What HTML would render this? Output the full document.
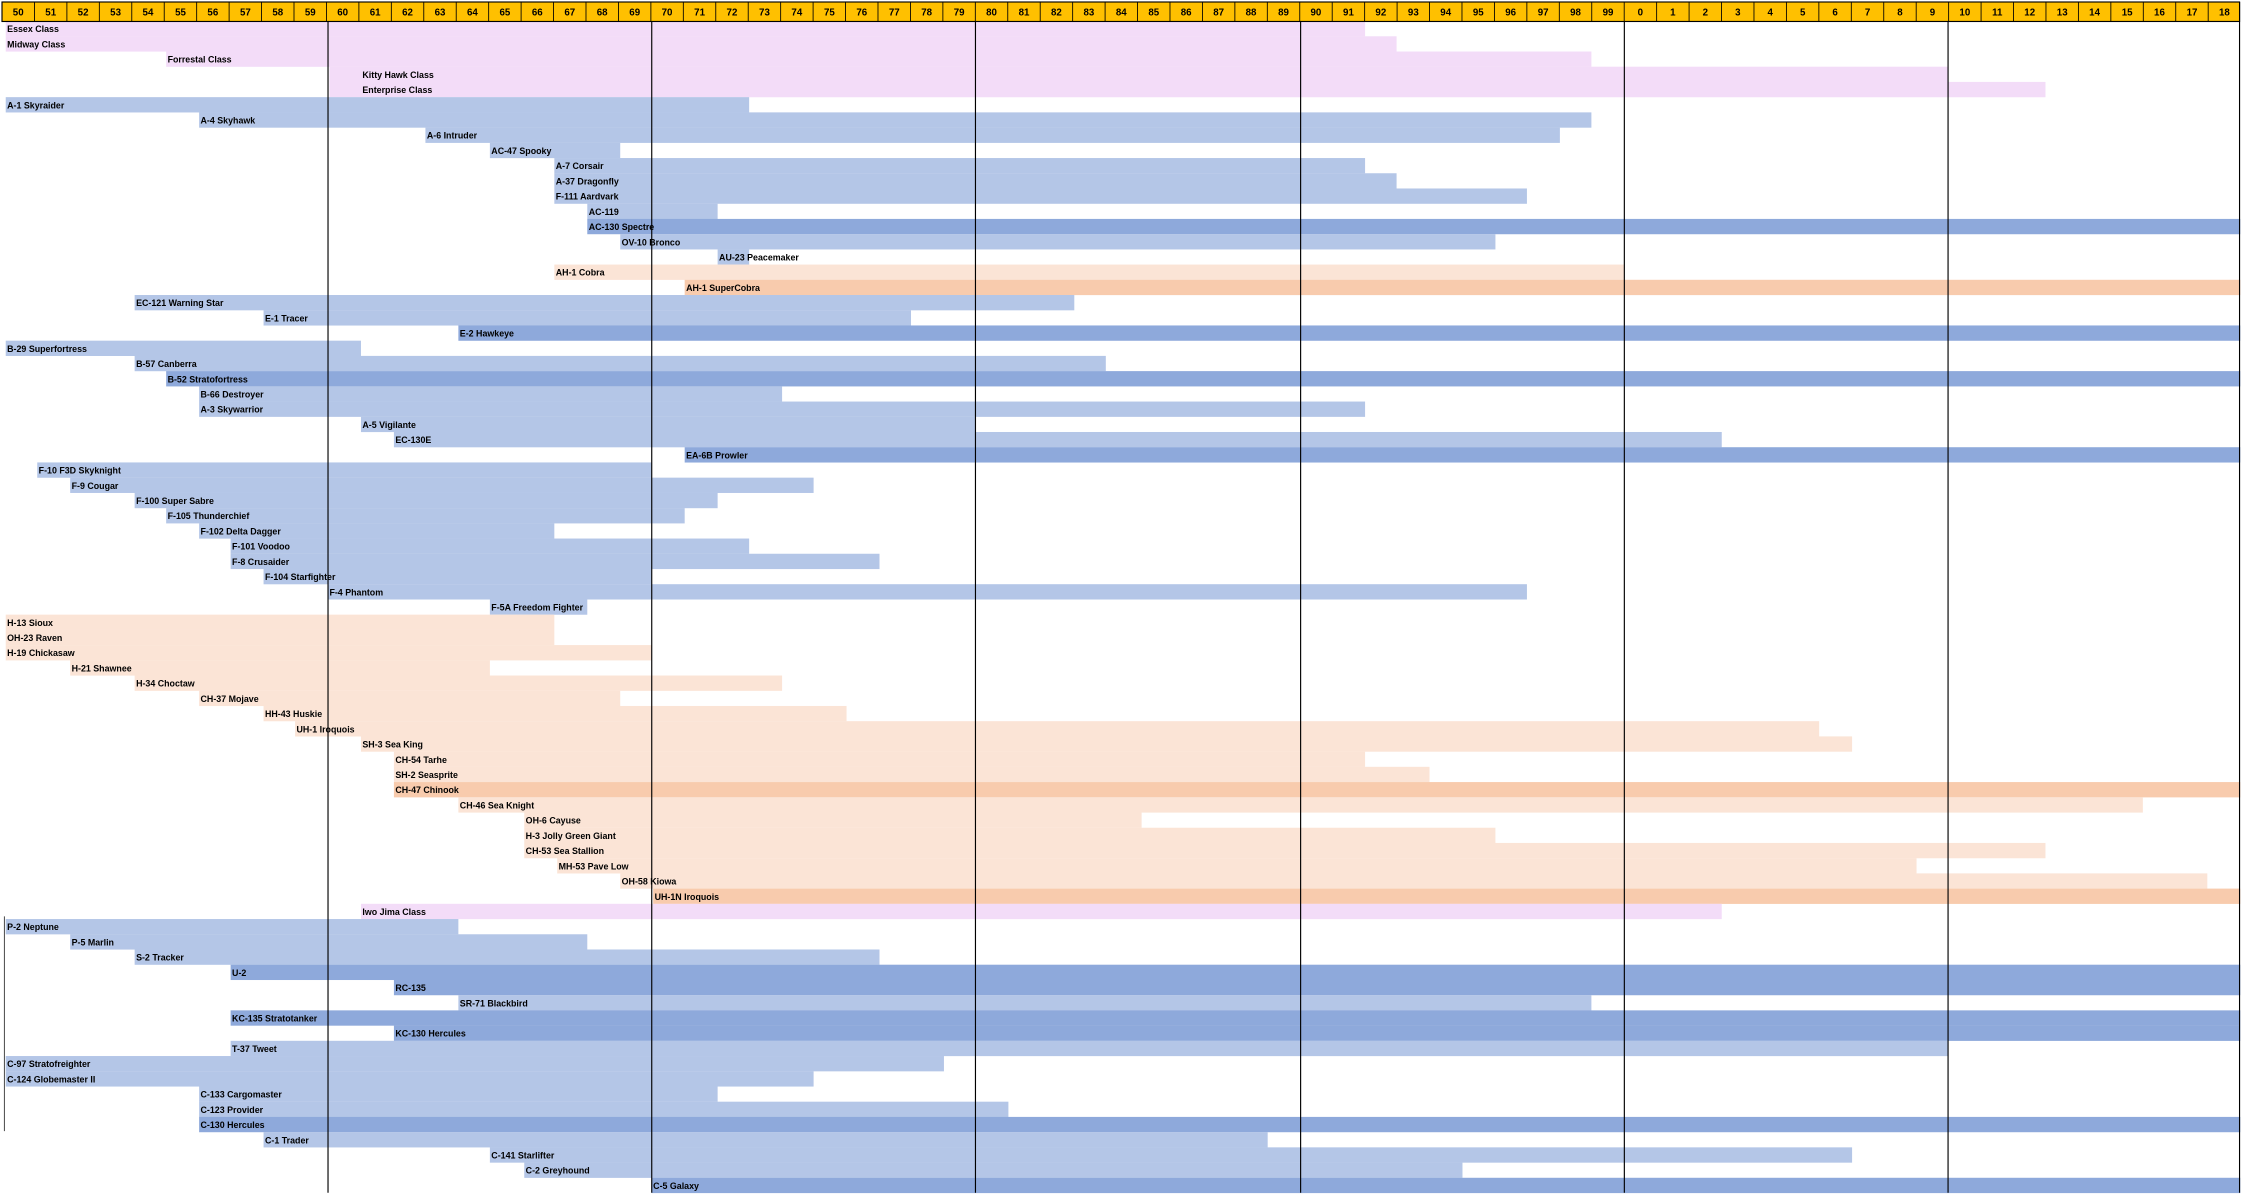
<!DOCTYPE html>
<html><head><meta charset="utf-8"><style>
html,body{margin:0;padding:0;background:#fff;}
svg{display:block;}
text{font-family:"Liberation Sans",sans-serif;font-weight:bold;fill:#000;}
.p{fill:#F3DCF8}.b{fill:#B4C6E7}.d{fill:#8EA9DB}.o{fill:#FBE4D6}.q{fill:#F8CBAD}
</style></head><body>
<svg width="2246" height="1197" viewBox="0 0 1568 836" preserveAspectRatio="none" xmlns="http://www.w3.org/2000/svg">
<rect x="0" y="0" width="1568" height="836" fill="#fff"/>
<g font-size="6.2">
<g transform="translate(0,14.7)"><rect class="p" x="4" y="0" width="949" height="10.7"/><text x="5" y="7.8">Essex Class</text></g>
<g transform="translate(0,25.33)"><rect class="p" x="4" y="0" width="971" height="10.7"/><text x="5" y="7.8">Midway Class</text></g>
<g transform="translate(0,35.96)"><rect class="p" x="116" y="0" width="995" height="10.7"/><text x="117" y="7.8">Forrestal Class</text></g>
<g transform="translate(0,46.59)"><rect class="p" x="230" y="0" width="1130" height="10.7"/><text x="253" y="7.8">Kitty Hawk Class</text></g>
<g transform="translate(0,57.22)"><rect class="p" x="230" y="0" width="1198" height="10.7"/><text x="253" y="7.8">Enterprise Class</text></g>
<g transform="translate(0,67.85)"><rect class="b" x="4" y="0" width="519" height="10.7"/><text x="5" y="7.8">A-1 Skyraider</text></g>
<g transform="translate(0,78.48)"><rect class="b" x="139" y="0" width="972" height="10.7"/><text x="140" y="7.8">A-4 Skyhawk</text></g>
<g transform="translate(0,89.11)"><rect class="b" x="297" y="0" width="792" height="10.7"/><text x="298" y="7.8">A-6 Intruder</text></g>
<g transform="translate(0,99.74)"><rect class="b" x="342" y="0" width="91" height="10.7"/><text x="343" y="7.8">AC-47 Spooky</text></g>
<g transform="translate(0,110.37)"><rect class="b" x="387" y="0" width="566" height="10.7"/><text x="388" y="7.8">A-7 Corsair</text></g>
<g transform="translate(0,121)"><rect class="b" x="387" y="0" width="588" height="10.7"/><text x="388" y="7.8">A-37 Dragonfly</text></g>
<g transform="translate(0,131.63)"><rect class="b" x="387" y="0" width="679" height="10.7"/><text x="388" y="7.8">F-111 Aardvark</text></g>
<g transform="translate(0,142.26)"><rect class="b" x="410" y="0" width="91" height="10.7"/><text x="411" y="7.8">AC-119</text></g>
<g transform="translate(0,152.89)"><rect class="d" x="410" y="0" width="1154" height="10.7"/><text x="411" y="7.8">AC-130 Spectre</text></g>
<g transform="translate(0,163.52)"><rect class="b" x="433" y="0" width="611" height="10.7"/><text x="434" y="7.8">OV-10 Bronco</text></g>
<g transform="translate(0,174.15)"><rect class="b" x="501" y="0" width="22" height="10.7"/><text x="502" y="7.8">AU-23 Peacemaker</text></g>
<g transform="translate(0,184.78)"><rect class="o" x="387" y="0" width="747" height="10.7"/><text x="388" y="7.8">AH-1 Cobra</text></g>
<g transform="translate(0,195.41)"><rect class="q" x="478" y="0" width="1086" height="10.7"/><text x="479" y="7.8">AH-1 SuperCobra</text></g>
<g transform="translate(0,206.04)"><rect class="b" x="94" y="0" width="656" height="10.7"/><text x="95" y="7.8">EC-121 Warning Star</text></g>
<g transform="translate(0,216.67)"><rect class="b" x="184" y="0" width="452" height="10.7"/><text x="185" y="7.8">E-1 Tracer</text></g>
<g transform="translate(0,227.3)"><rect class="d" x="320" y="0" width="1244" height="10.7"/><text x="321" y="7.8">E-2 Hawkeye</text></g>
<g transform="translate(0,237.93)"><rect class="b" x="4" y="0" width="248" height="10.7"/><text x="5" y="7.8">B-29 Superfortress</text></g>
<g transform="translate(0,248.56)"><rect class="b" x="94" y="0" width="678" height="10.7"/><text x="95" y="7.8">B-57 Canberra</text></g>
<g transform="translate(0,259.19)"><rect class="d" x="116" y="0" width="1448" height="10.7"/><text x="117" y="7.8">B-52 Stratofortress</text></g>
<g transform="translate(0,269.82)"><rect class="b" x="139" y="0" width="407" height="10.7"/><text x="140" y="7.8">B-66 Destroyer</text></g>
<g transform="translate(0,280.45)"><rect class="b" x="139" y="0" width="814" height="10.7"/><text x="140" y="7.8">A-3 Skywarrior</text></g>
<g transform="translate(0,291.08)"><rect class="b" x="252" y="0" width="429" height="10.7"/><text x="253" y="7.8">A-5 Vigilante</text></g>
<g transform="translate(0,301.71)"><rect class="b" x="275" y="0" width="927" height="10.7"/><text x="276" y="7.8">EC-130E</text></g>
<g transform="translate(0,312.34)"><rect class="d" x="478" y="0" width="1086" height="10.7"/><text x="479" y="7.8">EA-6B Prowler</text></g>
<g transform="translate(0,322.97)"><rect class="b" x="26" y="0" width="429" height="10.7"/><text x="27" y="7.8">F-10 F3D Skyknight</text></g>
<g transform="translate(0,333.6)"><rect class="b" x="49" y="0" width="519" height="10.7"/><text x="50" y="7.8">F-9 Cougar</text></g>
<g transform="translate(0,344.23)"><rect class="b" x="94" y="0" width="407" height="10.7"/><text x="95" y="7.8">F-100 Super Sabre</text></g>
<g transform="translate(0,354.86)"><rect class="b" x="116" y="0" width="362" height="10.7"/><text x="117" y="7.8">F-105 Thunderchief</text></g>
<g transform="translate(0,365.49)"><rect class="b" x="139" y="0" width="248" height="10.7"/><text x="140" y="7.8">F-102 Delta Dagger</text></g>
<g transform="translate(0,376.12)"><rect class="b" x="161" y="0" width="362" height="10.7"/><text x="162" y="7.8">F-101 Voodoo</text></g>
<g transform="translate(0,386.75)"><rect class="b" x="161" y="0" width="453" height="10.7"/><text x="162" y="7.8">F-8 Crusaider</text></g>
<g transform="translate(0,397.38)"><rect class="b" x="184" y="0" width="271" height="10.7"/><text x="185" y="7.8">F-104 Starfighter</text></g>
<g transform="translate(0,408.01)"><rect class="b" x="229" y="0" width="837" height="10.7"/><text x="230" y="7.8">F-4 Phantom</text></g>
<g transform="translate(0,418.64)"><rect class="b" x="342" y="0" width="68" height="10.7"/><text x="343" y="7.8">F-5A Freedom Fighter</text></g>
<g transform="translate(0,429.27)"><rect class="o" x="4" y="0" width="383" height="10.7"/><text x="5" y="7.8">H-13 Sioux</text></g>
<g transform="translate(0,439.9)"><rect class="o" x="4" y="0" width="383" height="10.7"/><text x="5" y="7.8">OH-23 Raven</text></g>
<g transform="translate(0,450.53)"><rect class="o" x="4" y="0" width="451" height="10.7"/><text x="5" y="7.8">H-19 Chickasaw</text></g>
<g transform="translate(0,461.16)"><rect class="o" x="49" y="0" width="293" height="10.7"/><text x="50" y="7.8">H-21 Shawnee</text></g>
<g transform="translate(0,471.79)"><rect class="o" x="94" y="0" width="452" height="10.7"/><text x="95" y="7.8">H-34 Choctaw</text></g>
<g transform="translate(0,482.42)"><rect class="o" x="139" y="0" width="294" height="10.7"/><text x="140" y="7.8">CH-37 Mojave</text></g>
<g transform="translate(0,493.05)"><rect class="o" x="184" y="0" width="407" height="10.7"/><text x="185" y="7.8">HH-43 Huskie</text></g>
<g transform="translate(0,503.68)"><rect class="o" x="206" y="0" width="1064" height="10.7"/><text x="207" y="7.8">UH-1 Iroquois</text></g>
<g transform="translate(0,514.31)"><rect class="o" x="252" y="0" width="1041" height="10.7"/><text x="253" y="7.8">SH-3 Sea King</text></g>
<g transform="translate(0,524.94)"><rect class="o" x="275" y="0" width="678" height="10.7"/><text x="276" y="7.8">CH-54 Tarhe</text></g>
<g transform="translate(0,535.57)"><rect class="o" x="275" y="0" width="723" height="10.7"/><text x="276" y="7.8">SH-2 Seasprite</text></g>
<g transform="translate(0,546.2)"><rect class="q" x="275" y="0" width="1289" height="10.7"/><text x="276" y="7.8">CH-47 Chinook</text></g>
<g transform="translate(0,556.83)"><rect class="o" x="320" y="0" width="1176" height="10.7"/><text x="321" y="7.8">CH-46 Sea Knight</text></g>
<g transform="translate(0,567.46)"><rect class="o" x="366" y="0" width="431" height="10.7"/><text x="367" y="7.8">OH-6 Cayuse</text></g>
<g transform="translate(0,578.09)"><rect class="o" x="366" y="0" width="678" height="10.7"/><text x="367" y="7.8">H-3 Jolly Green Giant</text></g>
<g transform="translate(0,588.72)"><rect class="o" x="366" y="0" width="1062" height="10.7"/><text x="367" y="7.8">CH-53 Sea Stallion</text></g>
<g transform="translate(0,599.35)"><rect class="o" x="389" y="0" width="949" height="10.7"/><text x="390" y="7.8">MH-53 Pave Low</text></g>
<g transform="translate(0,609.98)"><rect class="o" x="433" y="0" width="1108" height="10.7"/><text x="434" y="7.8">OH-58 Kiowa</text></g>
<g transform="translate(0,620.61)"><rect class="q" x="456" y="0" width="1108" height="10.7"/><text x="457" y="7.8">UH-1N Iroquois</text></g>
<g transform="translate(0,631.24)"><rect class="p" x="252" y="0" width="950" height="10.7"/><text x="253" y="7.8">Iwo Jima Class</text></g>
<g transform="translate(0,641.87)"><rect class="b" x="4" y="0" width="316" height="10.7"/><text x="5" y="7.8">P-2 Neptune</text></g>
<g transform="translate(0,652.5)"><rect class="b" x="49" y="0" width="361" height="10.7"/><text x="50" y="7.8">P-5 Marlin</text></g>
<g transform="translate(0,663.13)"><rect class="b" x="94" y="0" width="520" height="10.7"/><text x="95" y="7.8">S-2 Tracker</text></g>
<g transform="translate(0,673.76)"><rect class="d" x="161" y="0" width="1403" height="10.7"/><text x="162" y="7.8">U-2</text></g>
<g transform="translate(0,684.39)"><rect class="d" x="275" y="0" width="1289" height="10.7"/><text x="276" y="7.8">RC-135</text></g>
<g transform="translate(0,695.02)"><rect class="b" x="320" y="0" width="791" height="10.7"/><text x="321" y="7.8">SR-71 Blackbird</text></g>
<g transform="translate(0,705.65)"><rect class="d" x="161" y="0" width="1403" height="10.7"/><text x="162" y="7.8">KC-135 Stratotanker</text></g>
<g transform="translate(0,716.28)"><rect class="d" x="275" y="0" width="1289" height="10.7"/><text x="276" y="7.8">KC-130 Hercules</text></g>
<g transform="translate(0,726.91)"><rect class="b" x="161" y="0" width="1199" height="10.7"/><text x="162" y="7.8">T-37 Tweet</text></g>
<g transform="translate(0,737.54)"><rect class="b" x="4" y="0" width="655" height="10.7"/><text x="5" y="7.8">C-97 Stratofreighter</text></g>
<g transform="translate(0,748.17)"><rect class="b" x="4" y="0" width="564" height="10.7"/><text x="5" y="7.8">C-124 Globemaster II</text></g>
<g transform="translate(0,758.8)"><rect class="b" x="139" y="0" width="362" height="10.7"/><text x="140" y="7.8">C-133 Cargomaster</text></g>
<g transform="translate(0,769.43)"><rect class="b" x="139" y="0" width="565" height="10.7"/><text x="140" y="7.8">C-123 Provider</text></g>
<g transform="translate(0,780.06)"><rect class="d" x="139" y="0" width="1425" height="10.7"/><text x="140" y="7.8">C-130 Hercules</text></g>
<g transform="translate(0,790.69)"><rect class="b" x="184" y="0" width="701" height="10.7"/><text x="185" y="7.8">C-1 Trader</text></g>
<g transform="translate(0,801.32)"><rect class="b" x="342" y="0" width="951" height="10.7"/><text x="343" y="7.8">C-141 Starlifter</text></g>
<g transform="translate(0,811.95)"><rect class="b" x="366" y="0" width="655" height="10.7"/><text x="367" y="7.8">C-2 Greyhound</text></g>
<g transform="translate(0,822.58)"><rect class="d" x="455" y="0" width="1109" height="10.7"/><text x="456" y="7.8">C-5 Galaxy</text></g>
</g>
<g stroke="#000" stroke-width="0.8">
<line x1="229" y1="15" x2="229" y2="833"/>
<line x1="455" y1="15" x2="455" y2="833"/>
<line x1="681" y1="15" x2="681" y2="833"/>
<line x1="908" y1="15" x2="908" y2="833"/>
<line x1="1134" y1="15" x2="1134" y2="833"/>
<line x1="1360" y1="15" x2="1360" y2="833"/>
<line x1="1563.5" y1="1.4" x2="1563.5" y2="833"/>
<line x1="3" y1="640" x2="3" y2="790" stroke-width="0.5"/>
</g>
<rect x="1.4" y="1.4" width="1562.1" height="13.6" fill="#FFC000" stroke="#000" stroke-width="0.8"/>
<g stroke="#000" stroke-width="0.6" id="sep"></g>
<g font-size="6.8" text-anchor="middle">
<path d="M24.05 1.4V15M46.7 1.4V15M69.35 1.4V15M92 1.4V15M114.65 1.4V15M137.3 1.4V15M159.95 1.4V15M182.6 1.4V15M205.25 1.4V15M227.9 1.4V15M250.55 1.4V15M273.2 1.4V15M295.85 1.4V15M318.5 1.4V15M341.15 1.4V15M363.8 1.4V15M386.45 1.4V15M409.1 1.4V15M431.75 1.4V15M454.4 1.4V15M477.05 1.4V15M499.7 1.4V15M522.35 1.4V15M545 1.4V15M567.65 1.4V15M590.3 1.4V15M612.95 1.4V15M635.6 1.4V15M658.25 1.4V15M680.9 1.4V15M703.55 1.4V15M726.2 1.4V15M748.85 1.4V15M771.5 1.4V15M794.15 1.4V15M816.8 1.4V15M839.45 1.4V15M862.1 1.4V15M884.75 1.4V15M907.4 1.4V15M930.05 1.4V15M952.7 1.4V15M975.35 1.4V15M998 1.4V15M1020.65 1.4V15M1043.3 1.4V15M1065.95 1.4V15M1088.6 1.4V15M1111.25 1.4V15M1133.9 1.4V15M1156.55 1.4V15M1179.2 1.4V15M1201.85 1.4V15M1224.5 1.4V15M1247.15 1.4V15M1269.8 1.4V15M1292.45 1.4V15M1315.1 1.4V15M1337.75 1.4V15M1360.4 1.4V15M1383.05 1.4V15M1405.7 1.4V15M1428.35 1.4V15M1451 1.4V15M1473.65 1.4V15M1496.3 1.4V15M1518.95 1.4V15M1541.6 1.4V15" stroke="#000" stroke-width="0.6" fill="none"/>
<text x="12.7" y="11">50</text><text x="35.4" y="11">51</text><text x="58" y="11">52</text><text x="80.7" y="11">53</text><text x="103.3" y="11">54</text><text x="126" y="11">55</text><text x="148.6" y="11">56</text><text x="171.3" y="11">57</text><text x="193.9" y="11">58</text><text x="216.6" y="11">59</text>
<text x="239.2" y="11">60</text><text x="261.9" y="11">61</text><text x="284.5" y="11">62</text><text x="307.2" y="11">63</text><text x="329.8" y="11">64</text><text x="352.5" y="11">65</text><text x="375.1" y="11">66</text><text x="397.8" y="11">67</text><text x="420.4" y="11">68</text><text x="443.1" y="11">69</text>
<text x="465.7" y="11">70</text><text x="488.4" y="11">71</text><text x="511" y="11">72</text><text x="533.7" y="11">73</text><text x="556.3" y="11">74</text><text x="579" y="11">75</text><text x="601.6" y="11">76</text><text x="624.3" y="11">77</text><text x="646.9" y="11">78</text><text x="669.6" y="11">79</text>
<text x="692.2" y="11">80</text><text x="714.9" y="11">81</text><text x="737.5" y="11">82</text><text x="760.2" y="11">83</text><text x="782.8" y="11">84</text><text x="805.5" y="11">85</text><text x="828.1" y="11">86</text><text x="850.8" y="11">87</text><text x="873.4" y="11">88</text><text x="896.1" y="11">89</text>
<text x="918.7" y="11">90</text><text x="941.4" y="11">91</text><text x="964" y="11">92</text><text x="986.7" y="11">93</text><text x="1009.3" y="11">94</text><text x="1032" y="11">95</text><text x="1054.6" y="11">96</text><text x="1077.3" y="11">97</text><text x="1099.9" y="11">98</text><text x="1122.6" y="11">99</text>
<text x="1145.2" y="11">0</text><text x="1167.9" y="11">1</text><text x="1190.5" y="11">2</text><text x="1213.2" y="11">3</text><text x="1235.8" y="11">4</text><text x="1258.5" y="11">5</text><text x="1281.1" y="11">6</text><text x="1303.8" y="11">7</text><text x="1326.4" y="11">8</text><text x="1349.1" y="11">9</text>
<text x="1371.7" y="11">10</text><text x="1394.4" y="11">11</text><text x="1417" y="11">12</text><text x="1439.7" y="11">13</text><text x="1462.3" y="11">14</text><text x="1485" y="11">15</text><text x="1507.6" y="11">16</text><text x="1530.3" y="11">17</text><text x="1552.9" y="11">18</text>
</g>
</svg>
</body></html>
